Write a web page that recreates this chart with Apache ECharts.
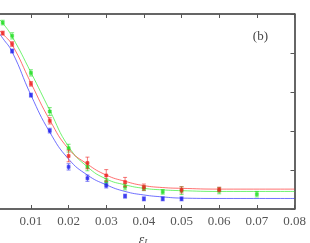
<!DOCTYPE html>
<html><head><meta charset="utf-8">
<script src="https://cdn.jsdelivr.net/npm/echarts@6/dist/echarts.min.js"></script>
<style>html,body{margin:0;padding:0;background:#fff}#c{width:310px;height:243px}</style>
</head><body><div id="c"></div>
<script>
// x tick labels
const xTicks = [0, 0.01, 0.02, 0.03, 0.04, 0.05, 0.06, 0.07, 0.08];
// fitted curves: [eps, value]
const curveEps = [0.0015, 0.0025, 0.005, 0.01, 0.015, 0.02, 0.025, 0.03, 0.035, 0.04, 0.045, 0.05, 0.06, 0.08];
const greenCurve = [4.87, 4.77, 4.42, 3.50, 2.53, 1.60, 1.08, 0.77, 0.62, 0.53, 0.49, 0.47, 0.45, 0.45];
const redCurve   = [4.59, 4.49, 4.21, 3.23, 2.28, 1.54, 1.15, 0.87, 0.71, 0.60, 0.55, 0.53, 0.51, 0.51];
const blueCurve  = [4.51, 4.38, 4.03, 2.92, 1.97, 1.28, 0.87, 0.62, 0.45, 0.36, 0.31, 0.28, 0.27, 0.27];
// data points: [eps, value, error]
const greenPts = [[0.0025,4.78,0.06],[0.005,4.44,0.08],[0.01,3.49,0.08],[0.015,2.50,0.1],[0.02,1.56,0.1],[0.025,1.08,0.1],[0.03,0.70,0.08],[0.035,0.57,0.08],[0.04,0.53,0.06],[0.045,0.44,0.06],[0.05,0.47,0.1],[0.06,0.47,0.08],[0.07,0.38,0.07]];
const redPts = [[0.0025,4.51,0.05],[0.005,4.23,0.06],[0.01,3.21,0.06],[0.015,2.26,0.08],[0.02,1.36,0.15],[0.025,1.18,0.15],[0.03,0.86,0.15],[0.035,0.69,0.12],[0.04,0.56,0.08],[0.05,0.49,0.08],[0.06,0.50,0.06]];
const bluePts = [[0.005,4.05,0.05],[0.01,2.92,0.05],[0.015,2.01,0.06],[0.02,1.08,0.08],[0.025,0.79,0.08],[0.03,0.60,0.06],[0.035,0.33,0.05],[0.04,0.26,0.05],[0.045,0.26,0.05],[0.05,0.26,0.05]];

const chart = echarts.init(document.getElementById('c'), null, {renderer:'canvas'});
const zip = (xs, ys) => xs.map((x,i)=>[x, ys[i]]);
function errSeries(pts, color){
  return {
    type:'custom', data: pts, z: 5, clip: false,
    renderItem: function(params, api){
      const x = api.value(0), y = api.value(1), e = api.value(2);
      const p = api.coord([x,y]), t = api.coord([x,y+e]), b = api.coord([x,y-e]);
      const cw = 2, s = 1.5;
      const st = {stroke: color, lineWidth: 1, opacity: 0.6};
      return {type:'group', children:[
        {type:'line', shape:{x1:p[0],y1:t[1],x2:p[0],y2:b[1]}, style:st},
        {type:'line', shape:{x1:p[0]-cw,y1:t[1],x2:p[0]+cw,y2:t[1]}, style:st},
        {type:'line', shape:{x1:p[0]-cw,y1:b[1],x2:p[0]+cw,y2:b[1]}, style:st},
        {type:'rect', shape:{x:p[0]-s,y:p[1]-s,width:2*s,height:2*s}, style:{fill:color, stroke:color, lineWidth:0.6, opacity:0.8}}
      ]};
    }
  };
}
function lineSeries(xs, ys, color){
  return {type:'line', data: zip(xs, ys), smooth: 0.5, showSymbol:false, symbol:'none',
    lineStyle:{color: color, width:1, opacity:0.7}, z:3};
}
const axisLine = {show:true, onZero:false, lineStyle:{color:'#333', width:1.5}};
const serif = 'Liberation Serif';
chart.setOption({
  animation:false,
  grid:{left:-6.7, right:15.5, top:14, bottom:34, containLabel:false, outerBoundsMode:'none'},
  title:{text:'(b)', right:37, top:25, textStyle:{fontFamily:serif, fontSize:13, fontWeight:'normal', color:'#444'}},
  xAxis:[{
    type:'value', min:0, max:0.08, interval:0.01, position:'bottom',
    axisLine: axisLine, axisTick:{show:true, inside:true, length:4, lineStyle:{color:'#555'}},
    splitLine:{show:false},
    axisLabel:{show:true, margin:6, fontFamily:serif, fontSize:13, color:'#555', showMaxLabel:true,
      formatter: v => { const t = xTicks.find(k=>Math.abs(k-v)<1e-9); return t===undefined?'':(t===0?'0':t.toFixed(2)); }},
    name:'{e|ε}{s|L}', nameLocation:'middle', nameGap:22,
    nameTextStyle:{rich:{e:{fontFamily:serif, fontSize:14, fontStyle:'italic', color:'#444'}, s:{fontFamily:serif, fontSize:9, fontStyle:'italic', color:'#444', verticalAlign:'bottom', padding:[6,0,0,0]}}}
  },{
    type:'value', min:0, max:0.08, interval:0.01, position:'top',
    axisLine: axisLine, axisTick:{show:true, inside:true, length:4, lineStyle:{color:'#555'}},
    axisLabel:{show:false}, splitLine:{show:false}
  }],
  yAxis:[{
    type:'value', min:0, max:5, interval:1, position:'left',
    axisLine: axisLine, axisTick:{show:true, inside:true, length:4}, axisLabel:{show:false}, splitLine:{show:false}
  },{
    type:'value', min:0, max:5, interval:1, position:'right',
    axisLine: axisLine, axisTick:{show:true, inside:true, length:4, lineStyle:{color:'#555'}}, axisLabel:{show:false}, splitLine:{show:false}
  }],
  series:[
    lineSeries(curveEps, greenCurve, '#33ee33'),
    lineSeries(curveEps, redCurve, '#ff3333'),
    lineSeries(curveEps, blueCurve, '#3333ff'),
    errSeries(greenPts, '#22dd22'),
    errSeries(redPts, '#ee2222'),
    errSeries(bluePts, '#2222ee')
  ]
});
</script></body></html>
